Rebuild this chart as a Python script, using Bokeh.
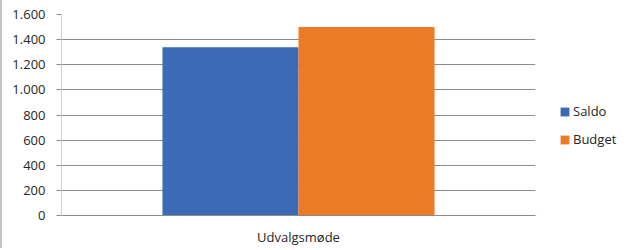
from bokeh.plotting import figure
from bokeh.layouts import row
from bokeh.models import ColumnDataSource, Legend, LegendItem, CustomJSTickFormatter, FixedTicker
from bokeh.transform import dodge
from bokeh.embed import file_html
from bokeh.resources import INLINE

categories = ["Udvalgsmøde"]
series = ["Saldo", "Budget"]
saldo = [1340]
budget = [1500]
y_ticks = [0, 200, 400, 600, 800, 1000, 1200, 1400, 1600]
colors = ["#3D6AB4", "#ED7B26"]

src = ColumnDataSource(dict(cat=categories, saldo=saldo, budget=budget))

H = 248
W1 = 538
p = figure(x_range=categories, y_range=(0, 1600), width=W1, height=H,
           output_backend="svg", toolbar_location=None,
           min_border_left=59, min_border_right=W1 + 2 - 535, min_border_top=14, min_border_bottom=H - 215)
p.x_range.range_padding = 0

r1 = p.vbar(x=dodge("cat", -0.1435, range=p.x_range), top="saldo", width=0.287,
            source=src, color=colors[0], line_color=None)
r2 = p.vbar(x=dodge("cat", 0.1435, range=p.x_range), top="budget", width=0.287,
            source=src, color=colors[1], line_color=None)

p.outline_line_color = None
p.xgrid.grid_line_color = None
p.ygrid.grid_line_color = "#8C8C8C"
p.ygrid.grid_line_width = 1
p.yaxis.ticker = FixedTicker(ticks=y_ticks)
p.yaxis.formatter = CustomJSTickFormatter(code="return tick.toFixed(0).replace(/\\B(?=(\\d{3})+(?!\\d))/g, '.');")
p.yaxis.axis_line_color = "#D0D0D0"
p.yaxis.major_tick_line_color = "#8C8C8C"
p.yaxis.major_tick_out = 5
p.yaxis.major_tick_in = 0
p.yaxis.minor_tick_line_color = None
p.yaxis.major_label_standoff = 11
p.yaxis.major_label_text_font = "Open Sans"
p.yaxis.major_label_text_font_size = "13px"
p.yaxis.major_label_text_color = "#262626"

p.xaxis.axis_line_color = "#8C8C8C"
p.xaxis.major_tick_line_color = None
p.xaxis.minor_tick_line_color = None
p.xaxis.major_label_standoff = 6
p.xaxis.major_label_text_font = "Open Sans"
p.xaxis.major_label_text_font_size = "13px"
p.xaxis.major_label_text_color = "#262626"

# legend lives in a small companion figure to the right of the plot area
W2 = 87
q = figure(width=W2, height=H, output_backend="svg", toolbar_location=None,
           min_border=0, x_axis_type=None, y_axis_type=None,
           x_range=(1, 2), y_range=(1, 2))
q.outline_line_color = None
q.grid.grid_line_color = None
e1 = q.vbar(x=[0], top=[0], width=0, color=colors[0], line_color=None)
e2 = q.vbar(x=[0], top=[0], width=0, color=colors[1], line_color=None)

legend = Legend(items=[LegendItem(label=series[0], renderers=[e1]),
                       LegendItem(label=series[1], renderers=[e2])],
                location=(19, 66), orientation="vertical")
legend.border_line_color = None
legend.background_fill_alpha = 0
legend.padding = 0
legend.margin = 0
legend.spacing = 8
legend.glyph_width = 11
legend.glyph_height = 11
legend.label_height = 20
legend.label_standoff = 3
legend.label_text_font = "Open Sans"
legend.label_text_font_size = "13px"
legend.label_text_color = "#262626"
q.add_layout(legend, "center")

layout = row(p, q, styles={"border-left": "2px solid #C4C4C4"})

open("out.html", "w").write(file_html(layout, INLINE))
